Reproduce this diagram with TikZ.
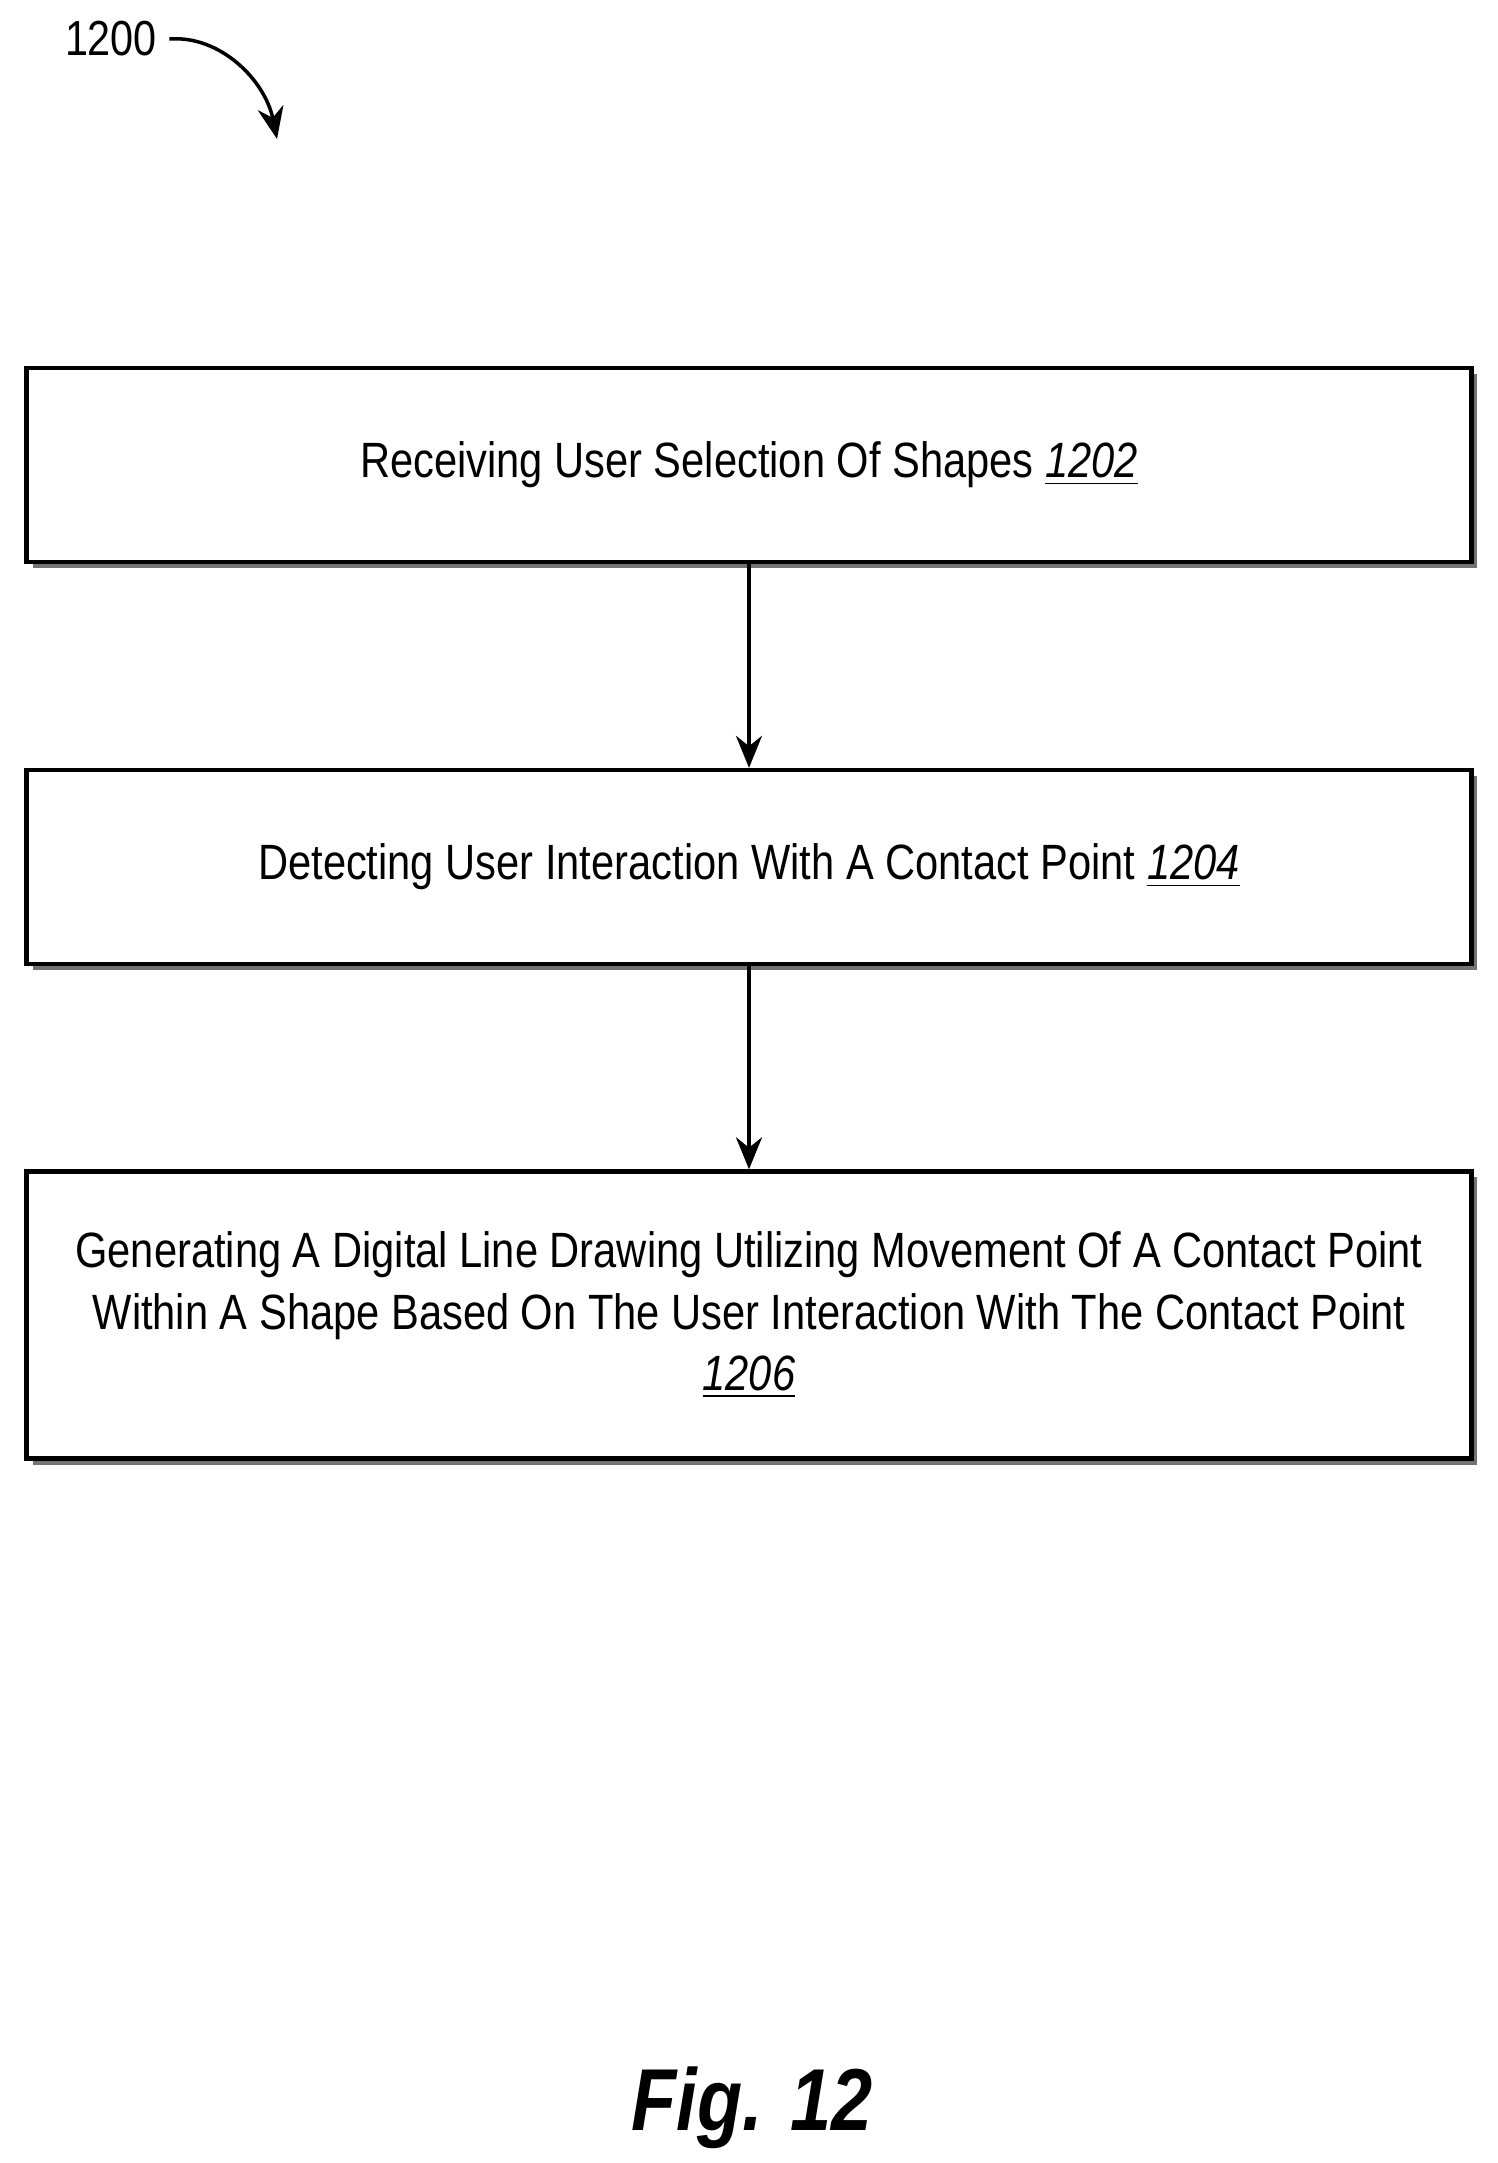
\documentclass[tikz,border=0pt]{standalone}
\usepackage{fontspec}
\setmainfont{Liberation Sans}[FakeStretch=0.84]
\usetikzlibrary{arrows.meta,positioning,shadows}

\begin{document}
\begin{tikzpicture}[x=0.01cm,y=-0.01cm,
    stepbox/.style={draw=black,line width=1.2pt,fill=white,minimum width=14.44cm,
      align=center,font=\fontsize{14.1}{17.5}\selectfont,
      drop shadow={shadow xshift=0.06cm,shadow yshift=-0.06cm,fill=black!55,opacity=1}},
    flow/.style={-{Stealth[length=3.2mm,width=2.6mm]},line width=1pt}]

    \useasboundingbox (0,0) rectangle (1498,2163);

    \node (s1202) [stepbox,minimum height=1.94cm] at (749,465) {Receiving User Selection Of Shapes \underline{\textit{1202}}};
    \node (s1204) [stepbox,minimum height=1.94cm] at (749,867) {Detecting User Interaction With A Contact Point \underline{\textit{1204}}};
    \node (s1206) [stepbox,minimum height=2.87cm] at (749,1315) {Generating A Digital Line Drawing Utilizing Movement Of A Contact Point\\
      Within A Shape Based On The User Interaction With The Contact Point\\ \underline{\textit{1206}}};

    \draw [flow] (s1202) -- (s1204);
    \draw [flow] (s1204) -- (s1206);

    \node (fig) [font=\fontsize{25}{30}\selectfont\bfseries\itshape] at (752,2108) {Fig. 12};

    \node (ref) [font=\fontsize{14}{17}\selectfont] at (111,39) {1200};
    \coordinate (ref-end) at (277,139);
    \draw [flow] (ref.east) .. controls (220,35) and (265,80) .. (ref-end);

\end{tikzpicture}
\end{document}
